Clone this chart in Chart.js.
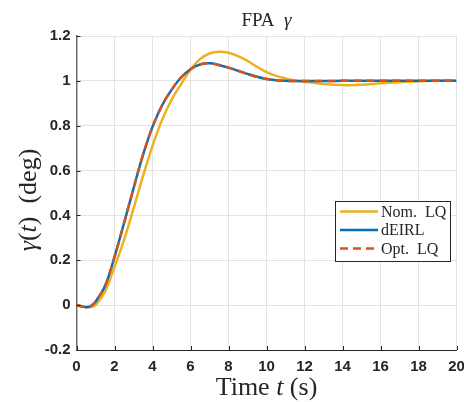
<!DOCTYPE html>
<html><head><meta charset="utf-8">
<script src="https://cdn.jsdelivr.net/npm/chart.js@4"></script>
<style>html,body{margin:0;padding:0;background:#fff}#wrap{width:464px;height:402px}</style>
</head><body><div id="wrap"><canvas id="c" width="464" height="402"></canvas></div>
<script>
const time  = [0, 0.25, 0.5, 0.75, 1, 1.5, 2, 2.5, 3, 3.5, 4, 4.5, 5, 5.5, 6, 6.5, 7, 7.5, 8, 8.5, 9, 9.5, 10, 10.5, 11, 11.5, 12, 13, 14, 15, 16, 17, 18, 19, 20];
const nomLQ = [0, -0.004, -0.008, -0.008, 0.0, 0.06, 0.17, 0.29, 0.43, 0.575, 0.71, 0.825, 0.915, 0.985, 1.05, 1.097, 1.122, 1.13, 1.125, 1.11, 1.089, 1.063, 1.039, 1.022, 1.011, 1.002, 0.996, 0.986, 0.981, 0.983, 0.989, 0.994, 0.998, 1.0, 1.0];
const dEIRL = [0, -0.005, -0.009, -0.004, 0.015, 0.085, 0.215, 0.365, 0.52, 0.67, 0.795, 0.89, 0.96, 1.015, 1.052, 1.073, 1.078, 1.071, 1.059, 1.045, 1.031, 1.018, 1.008, 1.003, 1.0, 0.999, 0.999, 0.999, 1.0, 1.0, 1.0, 1.0, 1.0, 1.0, 1.0];
const optLQ = [0, -0.005, -0.009, -0.004, 0.015, 0.085, 0.215, 0.365, 0.52, 0.67, 0.795, 0.89, 0.96, 1.015, 1.052, 1.073, 1.078, 1.071, 1.059, 1.045, 1.031, 1.018, 1.008, 1.003, 1.0, 0.999, 0.999, 0.999, 1.0, 1.0, 1.0, 1.0, 1.0, 1.0, 1.0];
const xTicks = [0, 2, 4, 6, 8, 10, 12, 14, 16, 18, 20];
const xTickLabels = ['0','2','4','6','8','10','12','14','16','18','20'];
const yTicks = [-0.2, 0, 0.2, 0.4, 0.6, 0.8, 1, 1.2];
const yTickLabels = ['-0.2','0','0.2','0.4','0.6','0.8','1','1.2'];
const seriesNames = ['Nom.  LQ', 'dEIRL', 'Opt.  LQ'];

const pts = ys => time.map((t, i) => ({x: t, y: ys[i]}));
const AX = '#262626', GRID = '#e3e3e3';
const SERIF = '"Liberation Serif", "DejaVu Serif", serif';

const textPlugin = {
  id: 'texts',
  afterDraw(chart) {
    const ctx = chart.ctx, a = chart.chartArea;
    const xs = chart.scales.x, ys = chart.scales.y;
    ctx.save();
    ctx.strokeStyle = AX; ctx.lineWidth = 1;
    ctx.beginPath();
    yTicks.forEach(v => { const p = Math.round(ys.getPixelForValue(v)) + 0.5; ctx.moveTo(a.left, p); ctx.lineTo(a.left + 4, p); });
    xTicks.forEach(v => { const p = Math.round(xs.getPixelForValue(v)) + 0.5; ctx.moveTo(p, a.bottom); ctx.lineTo(p, a.bottom - 4); });
    ctx.stroke();

    function drawMixed(parts, cx, cy, size) {
      let w = 0;
      parts.forEach(p => { ctx.font = (p[1] ? 'italic ' : '') + size + 'px ' + SERIF; p.w = ctx.measureText(p[0]).width; w += p.w; });
      let x = cx - w / 2;
      ctx.textBaseline = 'alphabetic'; ctx.textAlign = 'left'; ctx.fillStyle = AX;
      parts.forEach(p => { ctx.font = (p[1] ? 'italic ' : '') + size + 'px ' + SERIF; ctx.fillText(p[0], x, cy); x += p.w; });
    }
    const cx = (a.left + a.right) / 2;
    drawMixed([['FPA  ', false], ['γ', true]], cx, 26, 19);
    drawMixed([['Time ', false], ['t', true], [' (s)', false]], cx, 395, 26);
    ctx.save();
    ctx.translate(36, 200);
    ctx.rotate(-Math.PI / 2);
    drawMixed([['γ', true], ['(', false], ['t', true], [')  (deg)', false]], 0, 0, 26);
    ctx.restore();

    const L = 335.5, T = 201.5, R = 450.5, B = 261.5;
    ctx.fillStyle = '#fff'; ctx.fillRect(L, T, R - L, B - T);
    ctx.strokeStyle = AX; ctx.lineWidth = 1; ctx.strokeRect(L, T, R - L, B - T);
    const rows = [211.5, 230, 248.5];
    chart.data.datasets.forEach((ds, i) => {
      ctx.strokeStyle = ds.borderColor; ctx.lineWidth = 2.5;
      ctx.setLineDash(ds.borderDash || []);
      ctx.beginPath(); ctx.moveTo(340, rows[i]); ctx.lineTo(378, rows[i]); ctx.stroke();
      ctx.setLineDash([]);
      ctx.fillStyle = AX; ctx.font = '16px ' + SERIF; ctx.textBaseline = 'middle'; ctx.textAlign = 'left';
      ctx.fillText(ds.label, 381, rows[i] + 1);
    });
    ctx.restore();
  }
};

new Chart(document.getElementById('c'), {
  type: 'line',
  data: {
    datasets: [
      {label: seriesNames[0], data: pts(nomLQ), borderColor: '#EDB120', borderWidth: 2.5, order: 2},
      {label: seriesNames[1], data: pts(dEIRL), borderColor: '#0072BD', borderWidth: 2.5, order: 1},
      {label: seriesNames[2], data: pts(optLQ), borderColor: '#D95319', borderWidth: 2.5, borderDash: [8, 5], order: 0}
    ]
  },
  options: {
    responsive: false, animation: false, devicePixelRatio: 1,
    elements: {point: {radius: 0}, line: {tension: 0.35}},
    layout: {padding: {left: 0, top: 36, right: 7.5, bottom: 0}},
    plugins: {legend: {display: false}, title: {display: false}, tooltip: {enabled: false}},
    scales: {
      x: {
        type: 'linear', min: 0, max: 20,
        afterBuildTicks: s => { s.ticks = xTicks.map(v => ({value: v})); },
        ticks: {callback: (v) => xTickLabels[xTicks.indexOf(v)], color: AX, font: {family: '"Liberation Sans", Arial, sans-serif', size: 15, weight: 'bold'}, padding: 8, maxRotation: 0, autoSkip: false},
        grid: {color: GRID, drawTicks: false},
        border: {color: AX, width: 1},
        afterFit: s => { s.height = 52; s.paddingLeft = 0; s.paddingRight = 0; }
      },
      y: {
        type: 'linear', min: -0.2, max: 1.2,
        afterBuildTicks: s => { s.ticks = yTicks.map(v => ({value: v})); },
        ticks: {callback: (v) => { const i = yTicks.findIndex(t => Math.abs(t - v) < 1e-9); return yTickLabels[i]; }, color: AX, font: {family: '"Liberation Sans", Arial, sans-serif', size: 15, weight: 'bold'}, padding: 6, autoSkip: false},
        grid: {color: GRID, drawTicks: false},
        border: {color: '#6e6e6e', width: 1.5},
        afterFit: s => { s.width = 76.5; s.paddingTop = 0; s.paddingBottom = 0; }
      }
    }
  },
  plugins: [textPlugin]
});
</script>
</body></html>
